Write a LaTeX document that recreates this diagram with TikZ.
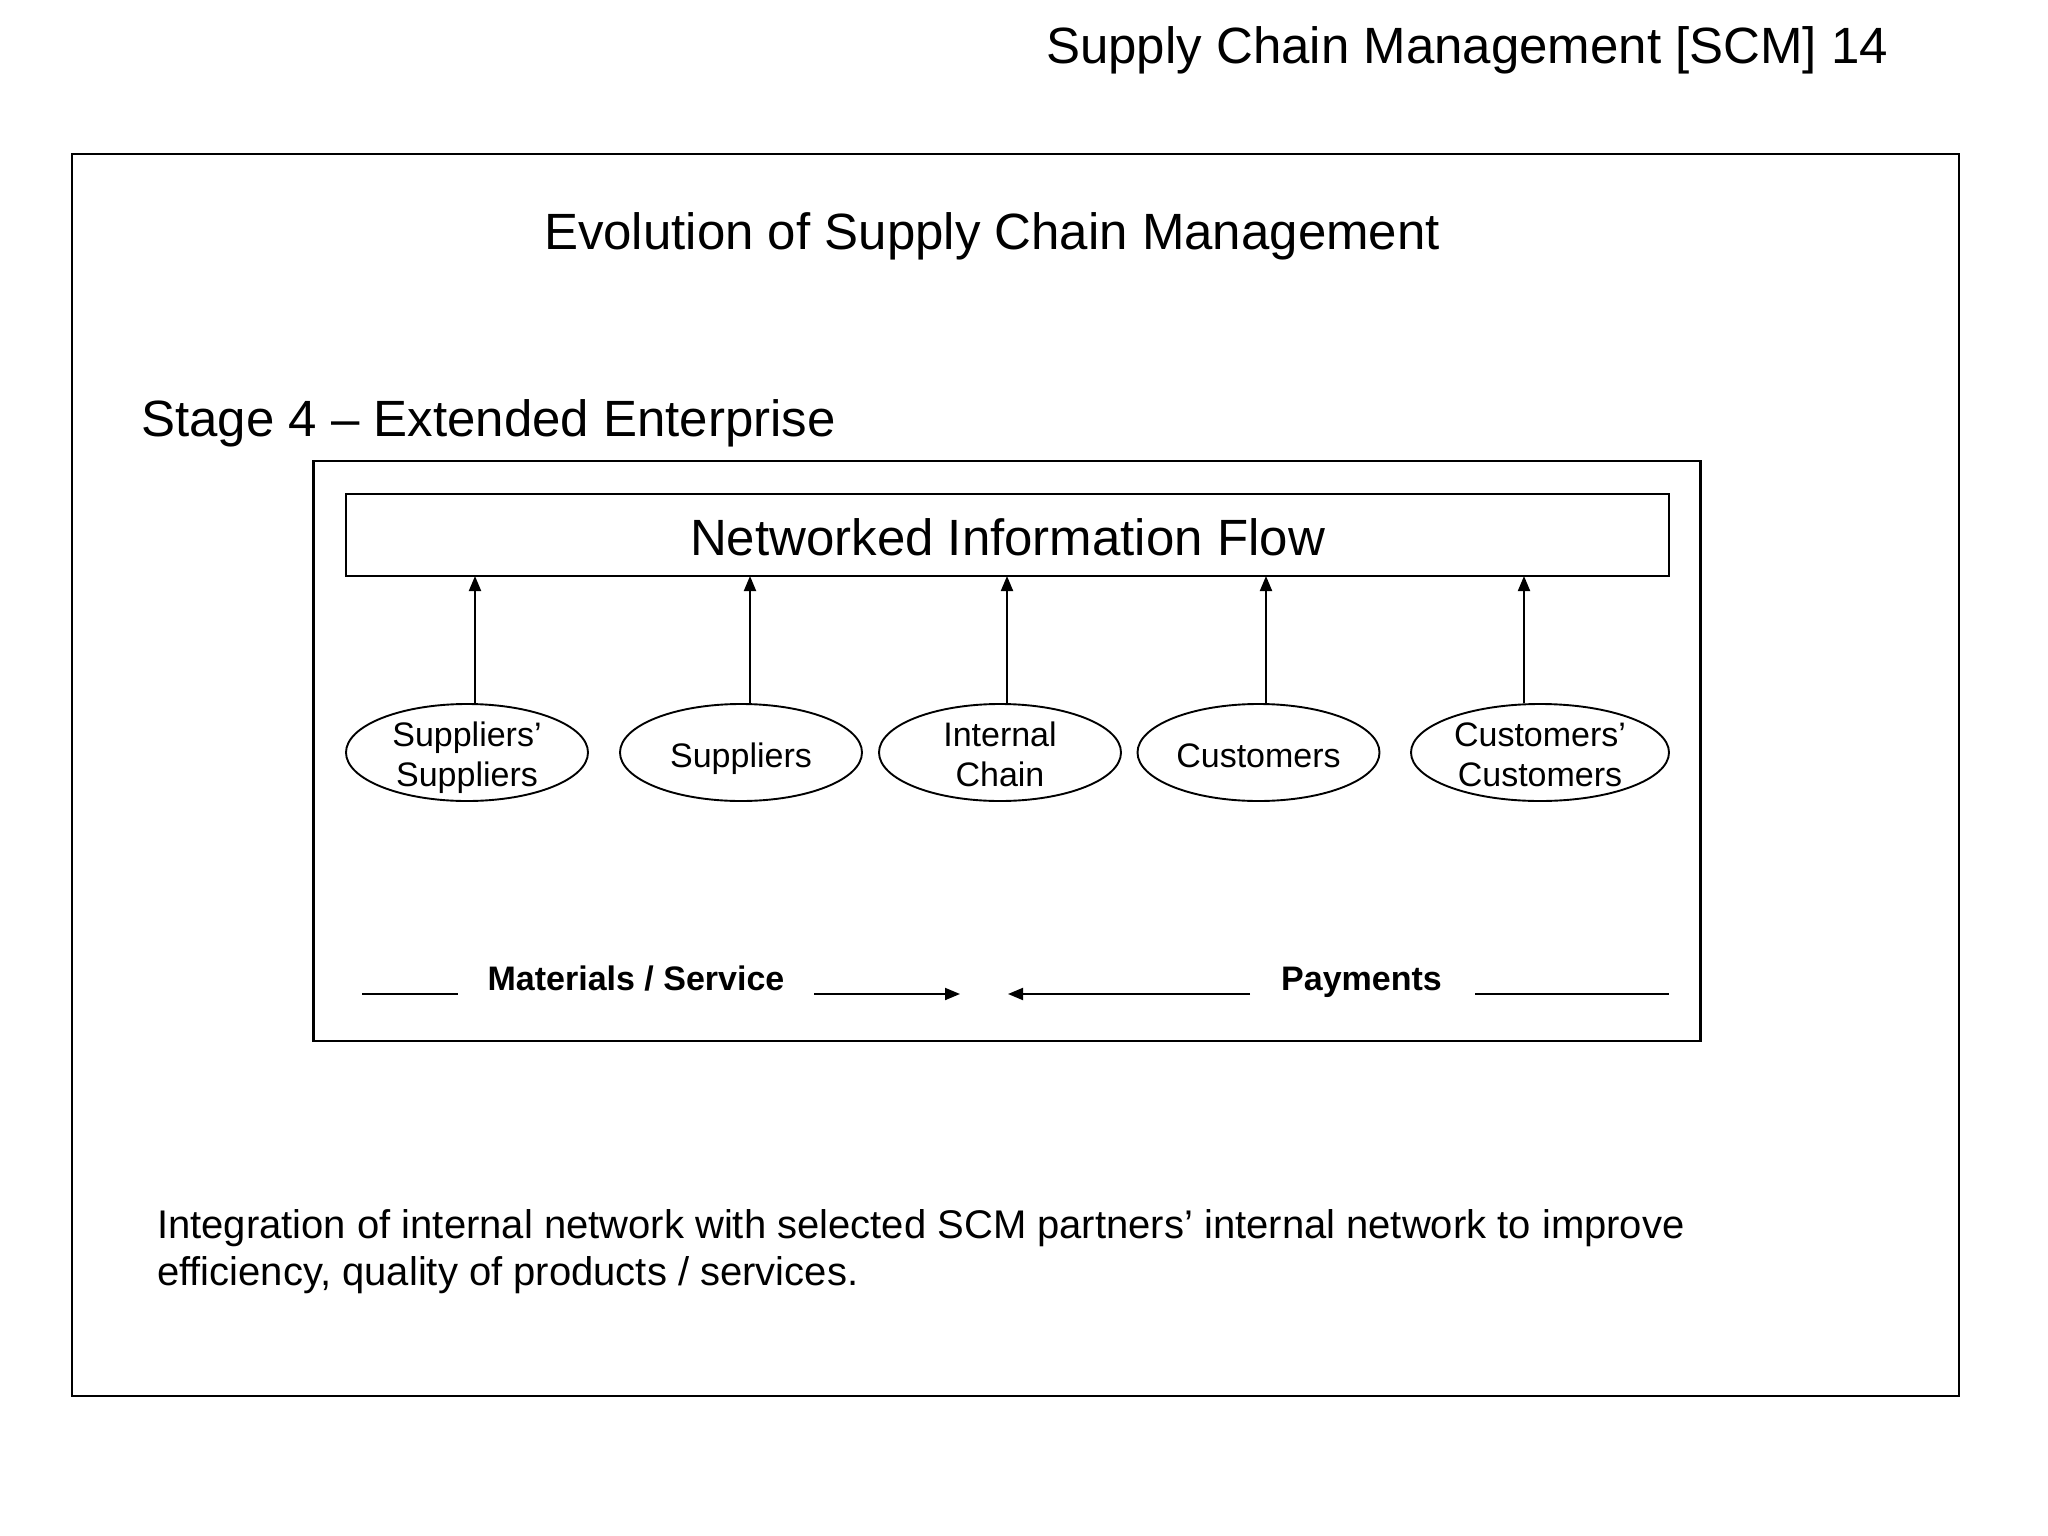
\documentclass[tikz,border=0pt]{standalone}
\usepackage{fontspec}
\setmainfont{Liberation Sans}
\usetikzlibrary{arrows.meta,shapes.geometric}
\newcommand{\ovaltxt}[2]{\raisebox{#1}[0pt][0pt]{\begin{tabular}[t]{@{}c@{}}#2\end{tabular}}}
\begin{document}
\begin{tikzpicture}[x=1pt,y=-1pt,
 frame/.style={draw=black,line width=2.4pt},
 big/.style={font=\fontsize{51}{59}\selectfont,inner sep=0pt},
 oval/.style={draw,ellipse,line width=1.9pt,minimum width=242pt,minimum height=97pt,inner sep=0pt,font=\fontsize{34}{40.5}\selectfont},
 arr/.style={line width=1.9pt,-{Triangle[length=15pt,width=12pt]}},
 flow/.style={font=\bfseries\fontsize{34}{40}\selectfont,inner sep=0pt},
 body/.style={font=\fontsize{40}{47}\selectfont,inner sep=0pt},
 plain/.style={line width=1.9pt}]
\fill[white] (0,0) rectangle (2048,1536);
\useasboundingbox (0,0) rectangle (2048,1536);

\node[big,anchor=base west] (hdr) at (1046,64) {Supply Chain Management [SCM] 14};
\draw[frame] (72,154) rectangle (1959,1396);
\node[big,anchor=base] (title) at (992,249) {Evolution of Supply Chain Management};
\node[big,anchor=base west] (stage) at (141,436) {Stage 4 – Extended Enterprise};

\draw[frame] (313.5,461) rectangle (1700.5,1041);
\node[draw,line width=2pt,minimum width=1323pt,minimum height=82pt,inner sep=0pt,font=\fontsize{51}{59}\selectfont] (nif) at (1007.5,535) {\raisebox{-2pt}[\height][\depth]{Networked Information Flow}};

\node[oval] (e1) at (467,752.5) {\ovaltxt{6.5pt}{Suppliers’\\Suppliers}};
\node[oval] (e2) at (741,752.5) {\ovaltxt{-14.5pt}{Suppliers}};
\node[oval] (e3) at (1000,752.5) {\ovaltxt{6.5pt}{Internal\\Chain}};
\node[oval] (e4) at (1258.5,752.5) {\ovaltxt{-14.5pt}{Customers}};
\node[oval,minimum width=258pt] (e5) at (1540,752.5) {\ovaltxt{6.5pt}{Customers’\\Customers}};

\coordinate (t1) at (475,576);
\coordinate (t2) at (750,576);
\coordinate (t3) at (1007,576);
\coordinate (t4) at (1266,576);
\coordinate (t5) at (1524,576);
\draw[arr] (t1 |- e1.north) -- (t1);
\draw[arr] (t2 |- e2.north) -- (t2);
\draw[arr] (t3 |- e3.north) -- (t3);
\draw[arr] (t4 |- e4.north) -- (t4);
\draw[arr] (t5 |- e5.north) -- (t5);

\node[flow,anchor=base] (mat) at (636,990) {Materials / Service};
\node[flow,anchor=base] (pay) at (1361.5,990) {Payments};
\coordinate (l1a) at (362,994);
\coordinate (l1b) at (458,994);
\coordinate (r1a) at (814,994);
\coordinate (r1b) at (960,994);
\coordinate (p1a) at (1250,994);
\coordinate (p1b) at (1008,994);
\coordinate (p2a) at (1475,994);
\coordinate (p2b) at (1669,994);
\draw[plain] (l1a) -- (l1b);
\draw[arr] (r1a) -- (r1b);
\draw[arr] (p1a) -- (p1b);
\draw[plain] (p2a) -- (p2b);

\node[body,anchor=base west] (txt1) at (157,1238) {Integration of internal network with selected SCM partners’ internal network to improve};
\node[body,anchor=base west] (txt2) at (157,1285) {efficiency, quality of products / services.};
\end{tikzpicture}
\end{document}
